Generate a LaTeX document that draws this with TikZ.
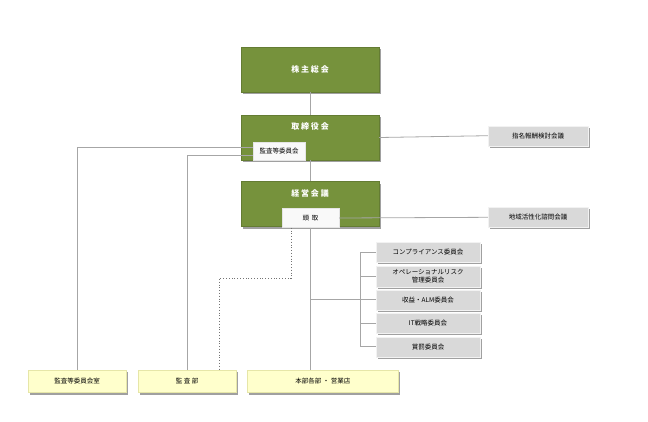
\documentclass[tikz,border=0pt]{standalone}
\usepackage{fontspec}
\newfontfamily\jp{Noto Sans CJK JP}
\usepackage{tikz}
\usetikzlibrary{shadows}
\definecolor{boardgreen}{HTML}{76923C}
\definecolor{paleyellow}{HTML}{FFFFCC}
\definecolor{yellowedge}{HTML}{E6E6A8}
\definecolor{boxgray}{HTML}{D9D9D9}
\definecolor{linegray}{HTML}{A6A6A6}
\definecolor{shadowgray}{HTML}{A0A0A0}

\begin{document}
\begin{tikzpicture}[x=1pt, y=-1pt,
   box/.style = {draw, inner sep=0pt, align=center, font=\jp\fontsize{6.5}{8}\selectfont,
      drop shadow={shadow xshift=2pt, shadow yshift=-2pt, fill=shadowgray, opacity=1}},
   organ/.style = {box, fill=boardgreen, draw=boardgreen!85!black, text=white,
      minimum width=138pt, minimum height=45pt, font=\jp\bfseries\fontsize{8}{10}\selectfont},
   inner/.style = {draw=white!80!gray, fill=white!95!gray, inner sep=0pt,
      font=\jp\fontsize{6.5}{8}\selectfont},
   council/.style = {box, fill=boxgray, draw=white!90!gray, minimum width=100pt, minimum height=20pt},
   committee/.style = {box, fill=boxgray, draw=white!90!gray, minimum width=104pt, minimum height=20pt},
   unit/.style = {box, fill=paleyellow, draw=yellowedge, minimum height=22.7pt},
   link/.style = {draw=linegray, line width=0.8pt}]
   \useasboundingbox (0,0) rectangle (648,421);

   \node[organ] (kabu) at (310,69.5) {株 主 総 会};
   \node[organ, text depth=22pt] (tori) at (310,137.5) {取 締 役 会};
   \node[organ, text depth=22pt] (keiei) at (310,204) {経 営 会 議};
   \node[inner, minimum width=52pt, minimum height=18pt] (kansaiin) at (279,151) {監査等委員会};
   \node[inner, minimum width=57pt, minimum height=19pt] (todori) at (310.5,218) {頭 \ 取};

   \node[council] (shimei) at (538,135.7) {指名報酬検討会議};
   \node[council] (chiiki) at (538,217.3) {地域活性化諮問会議};

   \node[committee] (comp) at (428,252.3) {コンプライアンス委員会};
   \node[committee, minimum height=21.6pt] (ope) at (428,276.5) {オペレーショナルリスク\\管理委員会};
   \node[committee] (shueki) at (428,299.7) {収益・ALM委員会};
   \node[committee] (it) at (428,323.3) {IT戦略委員会};
   \node[committee] (shobatsu) at (428,346.7) {賞罰委員会};

   \node[unit, minimum width=98pt] (kansashitsu) at (77.2,381.3) {監査等委員会室};
   \node[unit, minimum width=98pt] (kansabu) at (187.2,381.3) {監 査 部};
   \node[unit, minimum width=151pt] (honbu) at (322.8,381.3) {本部各部 ・ 営業店};

   \coordinate (bus) at (360.7,299.7);
   \coordinate (bend) at (219,278.3);

   \path[link] (kabu.south) -- (tori.north);
   \path[link] (tori.south) -- (keiei.north);
   \path[link] ([yshift=4pt]kansaiin.west) -| (kansashitsu.north);
   \path[link] ([yshift=-4pt]kansaiin.west) -| (kansabu.north);
   \path[link] (tori.east) -- (shimei.west);
   \path[link] (todori.east) -- (chiiki.west);
   \path[link] (todori.south) -- (todori.south |- honbu.north);
   \path[link] (todori.south |- shueki.west) -- (shueki.west);
   \path[link] (comp.west) -| (bus) |- (shobatsu.west);
   \path[link] (bus |- ope.west) -- (ope.west);
   \path[link] (bus |- it.west) -- (it.west);
   \draw[linegray!70!black, line width=0.8pt, dotted] ([xshift=-19.5pt]todori.south) |- (bend) -- (bend |- kansabu.north);
\end{tikzpicture}
\end{document}
